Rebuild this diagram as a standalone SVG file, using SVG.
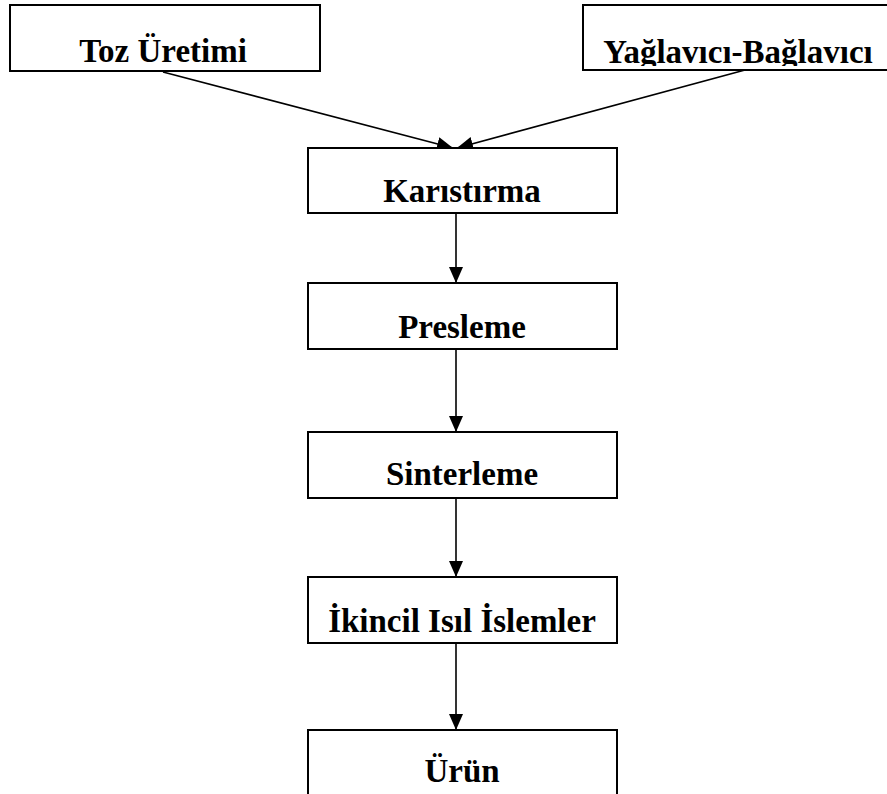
<svg xmlns="http://www.w3.org/2000/svg" width="887" height="794" viewBox="0 0 887 794">
<style>
.box{fill:#fff;stroke:#000;stroke-width:2}
.lbl{font-family:"Liberation Serif","Times New Roman",serif;font-weight:bold;font-size:33px;text-anchor:middle;fill:#000}
.conn{stroke:#000;stroke-width:1.6;fill:none}
</style>
<defs>
<marker id="ah" markerUnits="userSpaceOnUse" markerWidth="16" markerHeight="14" refX="16" refY="7" orient="auto" viewBox="0 0 16 14">
<path d="M0,0 L16,7 L0,14 Z" fill="#000"/>
</marker>
<clipPath id="clipY"><rect x="583" y="5" width="310" height="61"/></clipPath>
</defs>
<rect width="887" height="794" fill="#fff"/>
<g id="connectors">
<line class="conn" x1="163" y1="72" x2="453" y2="148" marker-end="url(#ah)"/>
<line class="conn" x1="745" y1="70" x2="457" y2="148" marker-end="url(#ah)"/>
<line class="conn" x1="456" y1="213" x2="456" y2="283" marker-end="url(#ah)"/>
<line class="conn" x1="456" y1="349" x2="456" y2="432" marker-end="url(#ah)"/>
<line class="conn" x1="456" y1="498" x2="456" y2="577" marker-end="url(#ah)"/>
<line class="conn" x1="456" y1="643" x2="456" y2="730" marker-end="url(#ah)"/>
</g>
<g id="toz">
<rect class="box" x="10" y="5" width="310" height="66"/>
<text class="lbl" x="163" y="62">Toz Üretimi</text>
</g>
<g id="yaglavici">
<rect class="box" x="583" y="5" width="310" height="65"/>
<text class="lbl" x="738" y="63" clip-path="url(#clipY)">Yağlavıcı-Bağlavıcı</text>
</g>
<g id="karistirma">
<rect class="box" x="308" y="148" width="309" height="65"/>
<text class="lbl" x="462" y="202">Karıstırma</text>
</g>
<g id="presleme">
<rect class="box" x="308" y="283" width="309" height="66"/>
<text class="lbl" x="462" y="338">Presleme</text>
</g>
<g id="sinterleme">
<rect class="box" x="308" y="432" width="309" height="66"/>
<text class="lbl" x="462" y="485">Sinterleme</text>
</g>
<g id="ikincil">
<rect class="box" x="308" y="577" width="309" height="66"/>
<text class="lbl" x="462" y="632">İkincil Isıl İslemler</text>
</g>
<g id="urun">
<rect class="box" x="308" y="730" width="309" height="80"/>
<text class="lbl" x="462" y="782">Ürün</text>
</g>
</svg>
